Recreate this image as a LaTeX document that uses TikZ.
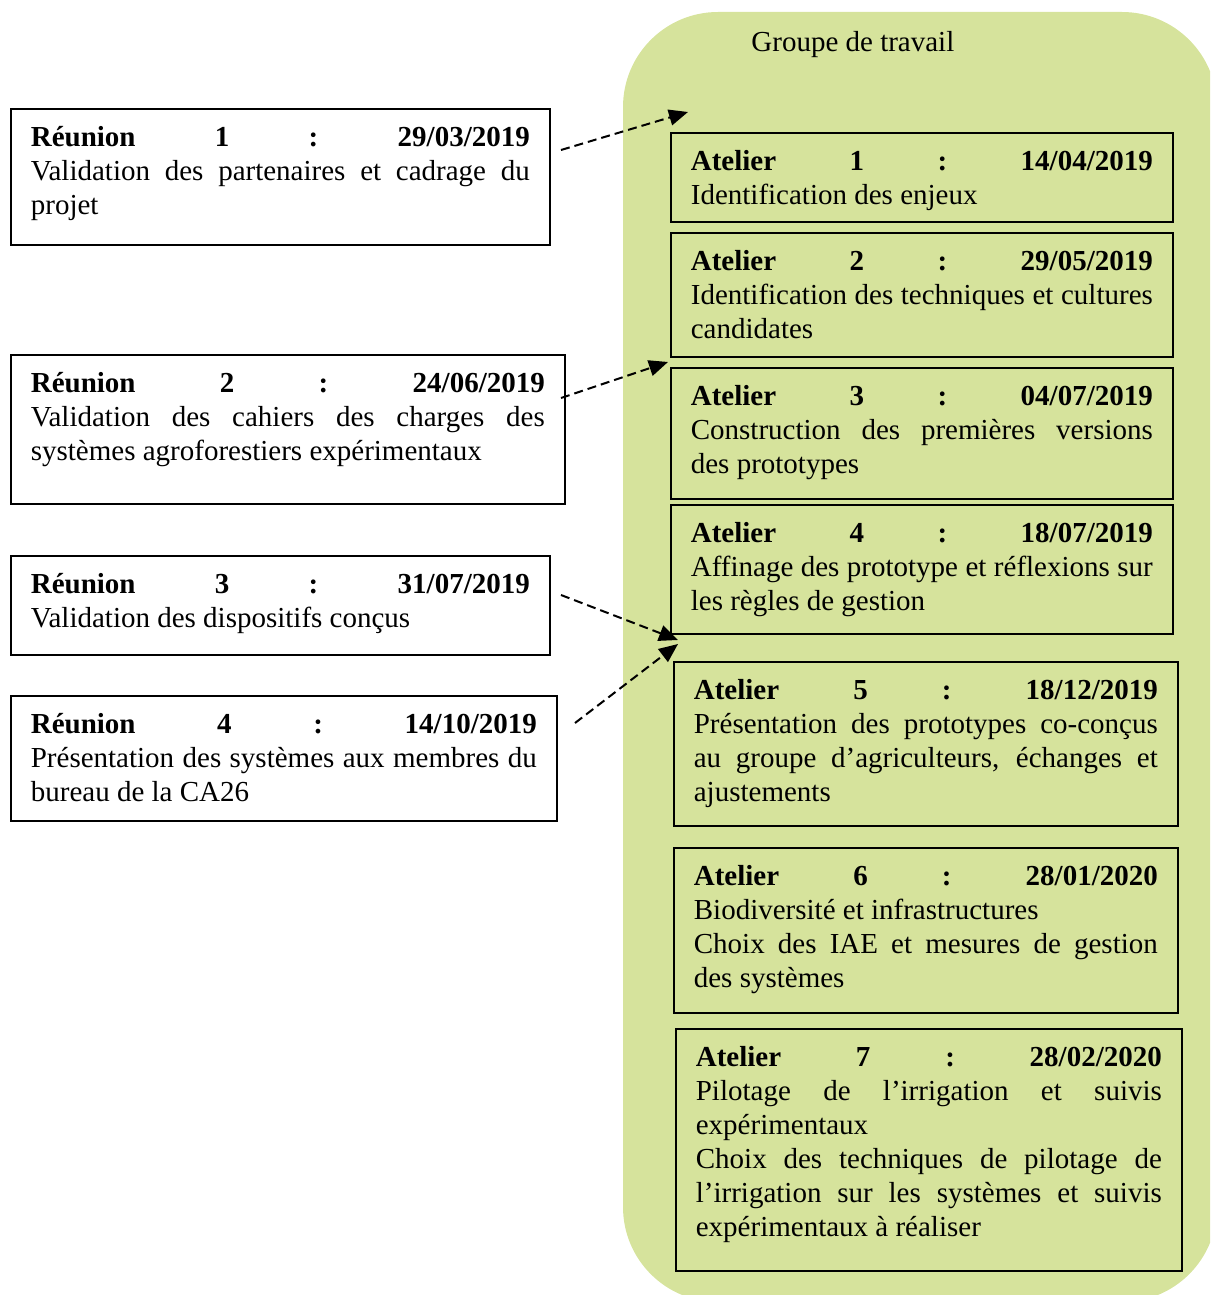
\documentclass[tikz,border=0pt]{standalone}
\usepackage{fontspec}
\setmainfont{Liberation Serif}
\usetikzlibrary{arrows.meta}
\definecolor{vertgroupe}{RGB}{214,227,156}
\newlength{\px}
\setlength{\px}{0.5pt}
\newcommand{\encart}[3]{\parbox[c][#2\px][t]{#1\px}{\tolerance=10000\hbadness=10000\hfuzz=2pt\hyphenpenalty=10000\exhyphenpenalty=10000\rule{0pt}{18.75pt}#3}}
\newcommand{\entete}[3]{\textbf{#1}\hfill\textbf{#2}\hfill\textbf{:}\hfill\textbf{#3}\linebreak}
\tikzset{
  cadre/.style={draw, line width=0.85pt, anchor=north west, inner xsep=20\px, inner ysep=0pt, font=\fontsize{14.5}{17}\selectfont},
  fleche/.style={dash pattern=on 4.5pt off 2.5pt, line width=1pt, -{Triangle[length=9.5pt,width=8pt]}}
}
\begin{document}
\begin{tikzpicture}[x=0.5pt,y=-0.5pt]
  \useasboundingbox (0,0) rectangle (1210,1295);
  \begin{scope}
    \clip (0,0) rectangle (1210,1295);
    \fill[vertgroupe, rounded corners=47.5pt] (623,12) rectangle (1217,1302);
  \end{scope}
  \node[anchor=base west, inner sep=0pt, font=\fontsize{14.5}{17}\selectfont] (titre) at (751,52) {Groupe de travail};
  \node[cadre] (r1) at (10,108) {\encart{499}{136}{\entete{Réunion}{1}{29/03/2019}Validation des partenaires et cadrage du\linebreak projet}};
  \node[cadre] (r2) at (10,354) {\encart{514}{149}{\entete{Réunion}{2}{24/06/2019}Validation des cahiers des charges des\linebreak systèmes agroforestiers expérimentaux}};
  \node[cadre] (r3) at (10,555) {\encart{499}{99}{\entete{Réunion}{3}{31/07/2019}Validation des dispositifs conçus}};
  \node[cadre] (r4) at (10,695) {\encart{506}{125}{\entete{Réunion}{4}{14/10/2019}Présentation des systèmes aux membres du\linebreak bureau de la CA26}};
  \node[cadre] (a1) at (670,132) {\encart{462}{89}{\entete{Atelier}{1}{14/04/2019}Identification des enjeux}};
  \node[cadre] (a2) at (670,232) {\encart{462}{124}{\entete{Atelier}{2}{29/05/2019}Identification des techniques et cultures\linebreak candidates}};
  \node[cadre] (a3) at (670,367) {\encart{462}{131}{\entete{Atelier}{3}{04/07/2019}Construction des premières versions\linebreak des prototypes}};
  \node[cadre] (a4) at (670,504) {\encart{462}{129}{\entete{Atelier}{4}{18/07/2019}Affinage des prototype et réflexions sur\linebreak les règles de gestion}};
  \node[cadre] (a5) at (673,661) {\encart{464}{164}{\entete{Atelier}{5}{18/12/2019}Présentation des prototypes co-conçus\linebreak au groupe d’agriculteurs, échanges et\linebreak ajustements}};
  \node[cadre] (a6) at (673,847) {\encart{464}{165}{\entete{Atelier}{6}{28/01/2020}Biodiversité et infrastructures\par Choix des IAE et mesures de gestion\linebreak des systèmes}};
  \node[cadre] (a7) at (675,1028) {\encart{466}{242}{\entete{Atelier}{7}{28/02/2020}Pilotage de l’irrigation et suivis\linebreak expérimentaux\par Choix des techniques de pilotage de\linebreak l’irrigation sur les systèmes et suivis\linebreak expérimentaux à réaliser}};
  \coordinate (d1) at (561,150);
  \coordinate (f1) at (688,112);
  \coordinate (d2) at (561,398);
  \coordinate (f2) at (668,362);
  \coordinate (d3) at (561,595);
  \coordinate (f3) at (678,640);
  \coordinate (d4) at (575,723);
  \coordinate (f4) at (678,644);
  \draw[fleche] (d1) -- (f1);
  \draw[fleche] (d2) -- (f2);
  \draw[fleche] (d3) -- (f3);
  \draw[fleche] (d4) -- (f4);
\end{tikzpicture}
\end{document}
